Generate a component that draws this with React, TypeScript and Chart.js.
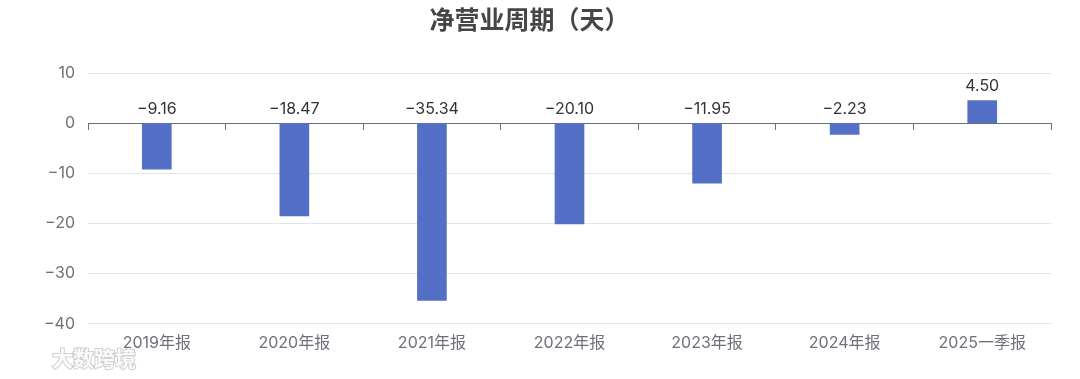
import React, { useEffect, useRef } from 'react';
import { Chart, registerables } from 'chart.js';
Chart.register(...registerables);

const chartTitle = '净营业周期（天）';
const categories = ['2019年报', '2020年报', '2021年报', '2022年报', '2023年报', '2024年报', '2025一季报'];
const netOperatingCycle = [-9.16, -18.47, -35.34, -20.10, -11.95, -2.23, 4.50];
const yMin = -40;
const yMax = 10;
const yStep = 10;
const watermark = '大数跨境';

const FONT = "Inter, 'Noto Sans CJK SC', sans-serif";
const TITLE_FONT = "'Noto Sans CJK SC', sans-serif";
const minus = (s: string) => s.replace('-', '\u2212');
const fmtValue = (v: number) => minus(v.toFixed(2));

const valueLabels = {
  id: 'valueLabels',
  afterDatasetsDraw(chart: any) {
    const ctx = chart.ctx;
    const meta = chart.getDatasetMeta(0);
    const data = chart.data.datasets[0].data as number[];
    ctx.save();
    ctx.font = `16px ${FONT}`;
    ctx.fillStyle = '#333333';
    ctx.textAlign = 'center';
    ctx.textBaseline = 'alphabetic';
    meta.data.forEach((bar: any, i: number) => {
      const top = Math.min(bar.y, bar.base);
      ctx.fillText(fmtValue(data[i]), bar.x, top - 10);
    });
    ctx.restore();
  },
};

const watermarkPlugin = {
  id: 'watermarkPlugin',
  afterDraw(chart: any) {
    const ctx = chart.ctx;
    ctx.save();
    ctx.font = `bold 21px ${TITLE_FONT}`;
    ctx.textAlign = 'left';
    ctx.textBaseline = 'middle';
    ctx.lineWidth = 2;
    ctx.strokeStyle = 'rgba(170,170,170,0.55)';
    ctx.fillStyle = 'rgba(255,255,255,0.9)';
    ctx.strokeText(watermark, 52, 358);
    ctx.fillText(watermark, 52, 358);
    ctx.restore();
  },
};

export default function App() {
  const ref = useRef<HTMLCanvasElement>(null);
  useEffect(() => {
    document.body.style.margin = '0';
    const chart = new Chart(ref.current!, {
      type: 'bar',
      data: {
        labels: categories,
        datasets: [
          {
            data: netOperatingCycle,
            backgroundColor: '#5470c6',
            xAxisID: 'x',
            yAxisID: 'y',
            barThickness: 29,
          },
        ],
      },
      options: {
        animation: false,
        responsive: true,
        maintainAspectRatio: false,
        layout: { padding: { left: 8, right: 29, top: 0, bottom: 24 } },
        plugins: {
          legend: { display: false },
          tooltip: { enabled: false },
          title: {
            display: true,
            text: chartTitle,
            color: '#464646',
            font: { family: TITLE_FONT, size: 25, weight: 'bold' },
            padding: { top: 4, bottom: 39 },
          },
        },
        scales: {
          x: {
            type: 'category',
            axis: 'x',
            position: { y: 0 } as any,
            offset: true,
            grid: {
              display: true,
              drawOnChartArea: false,
              drawTicks: true,
              tickLength: 6,
              color: '#6e7079',
              offset: true,
            },
            border: { display: true, color: '#6e7079', width: 1 },
            ticks: { display: false },
          },
          x2: {
            type: 'category',
            axis: 'x',
            position: 'bottom',
            offset: true,
            grid: { display: false },
            border: { display: false },
            ticks: { color: '#6e7079', font: { family: FONT, size: 16 }, padding: 2, maxRotation: 0 },
          },
          y: {
            type: 'linear',
            min: yMin,
            max: yMax,
            ticks: {
              stepSize: yStep,
              color: '#6e7079',
              font: { family: FONT, size: 16 },
              padding: 13,
              callback: (v: any) => minus(String(v)),
            },
            grid: { color: '#e0e6f1', drawTicks: false },
            border: { display: false },
            afterFit: (s: any) => {
              s.width = 80;
            },
          },
        },
      },
      plugins: [valueLabels, watermarkPlugin],
    });
    return () => chart.destroy();
  }, []);
  return (
    <div style={{ width: 1080, height: 379, position: 'relative' }}>
      <canvas ref={ref} />
    </div>
  );
}
